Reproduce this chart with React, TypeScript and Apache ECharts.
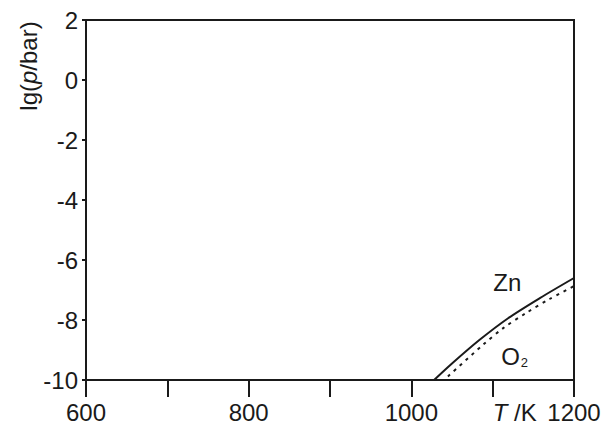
import React, { useEffect, useRef } from "react";
import * as echarts from "echarts";

const xTicks = [600, 700, 800, 900, 1000, 1100, 1200];
const xLabelValues = [600, 800, 1000, 1200];
const yTicks = [-10, -8, -6, -4, -2, 0, 2];

const znData: [number, number][] = [
  [1028, -10],
  [1050, -9.45],
  [1084, -8.66],
  [1119, -7.94],
  [1158, -7.27],
  [1200, -6.6],
];

const o2Data: [number, number][] = [
  [1045, -9.88],
  [1088, -8.83],
  [1113, -8.27],
  [1141, -7.77],
  [1170, -7.3],
  [1200, -6.87],
];

const znLabelPos: [number, number][] = [[1118, -6.76]];
const o2LabelPos: [number, number][] = [[1127, -9.23]];

const FONT = "'Liberation Sans', Arial, sans-serif";
const INK = "#1a1a1a";

export default function App() {
  const ref = useRef<HTMLDivElement>(null);
  useEffect(() => {
    document.body.style.margin = "0";
    const chart = echarts.init(ref.current!, null, { renderer: "svg" });
    const labelBase = {
      show: true,
      position: "inside",
      color: INK,
      opacity: 1,
      textBorderWidth: 0,
      textBorderColor: "transparent",
      fontFamily: FONT,
    };
    chart.setOption({
      animation: false,
      backgroundColor: "#ffffff",
      textStyle: { fontFamily: FONT },
      grid: {
        left: 86,
        right: 30,
        top: 20,
        bottom: 51,
        show: true,
        borderColor: INK,
        borderWidth: 2,
        backgroundColor: "transparent",
      },
      xAxis: {
        type: "value",
        min: xTicks[0],
        max: xTicks[xTicks.length - 1],
        interval: 100,
        splitLine: { show: false },
        axisLine: { show: true, onZero: false, lineStyle: { color: INK, width: 2 } },
        axisTick: { show: true, length: 17, lineStyle: { color: INK, width: 2 } },
        axisLabel: {
          fontSize: 24,
          color: INK,
          fontFamily: FONT,
          margin: 20,
          formatter: (v: number) => {
            if (v === 1100) return "{it|T}{n| /K}";
            return xLabelValues.includes(v) ? String(v) : "";
          },
          rich: {
            it: { fontStyle: "italic", fontSize: 24, color: INK, fontFamily: FONT, padding: [0, 0, 0, 44] },
            n: { fontSize: 24, color: INK, fontFamily: FONT },
          },
        },
      },
      yAxis: {
        type: "value",
        min: yTicks[0],
        max: yTicks[yTicks.length - 1],
        interval: 2,
        splitLine: { show: false },
        axisLine: { show: true, onZero: false, lineStyle: { color: INK, width: 2 } },
        axisTick: { show: true, length: 4, lineStyle: { color: INK, width: 2 } },
        axisLabel: { fontSize: 24, color: INK, fontFamily: FONT, margin: 8 },
      },
      graphic: [
        {
          type: "text",
          x: 28,
          y: 66,
          rotation: Math.PI / 2,
          style: {
            text: "{n|lg(}{i|p}{n|/bar)}",
            align: "center",
            verticalAlign: "middle",
            rich: {
              n: { fontSize: 24, fill: INK, fontFamily: FONT },
              i: { fontSize: 24, fill: INK, fontFamily: FONT, fontStyle: "italic" },
            },
          },
        },
      ],
      series: [
        {
          type: "line",
          name: "Zn",
          data: znData,
          smooth: 0.3,
          symbol: "none",
          lineStyle: { color: INK, width: 2 },
        },
        {
          type: "line",
          name: "O2",
          data: o2Data,
          smooth: 0.3,
          symbol: "none",
          lineStyle: { color: INK, width: 2, type: [3, 5] },
        },
        {
          type: "scatter",
          data: znLabelPos,
          symbolSize: 2,
          itemStyle: { color: "rgba(0,0,0,0)" },
          label: { ...labelBase, formatter: "Zn", fontSize: 24 },
        },
        {
          type: "scatter",
          data: o2LabelPos,
          symbolSize: 2,
          itemStyle: { color: "rgba(0,0,0,0)" },
          label: {
            ...labelBase,
            formatter: "{b|O}{s|2}",
            rich: {
              b: { fontSize: 24, color: INK, fontFamily: FONT, textBorderWidth: 0 },
              s: { fontSize: 13, color: INK, fontFamily: FONT, textBorderWidth: 0, padding: [12, 0, 0, 1] },
            },
          },
        },
      ],
    });
    return () => chart.dispose();
  }, []);
  return <div ref={ref} style={{ width: 604, height: 431 }} />;
}
